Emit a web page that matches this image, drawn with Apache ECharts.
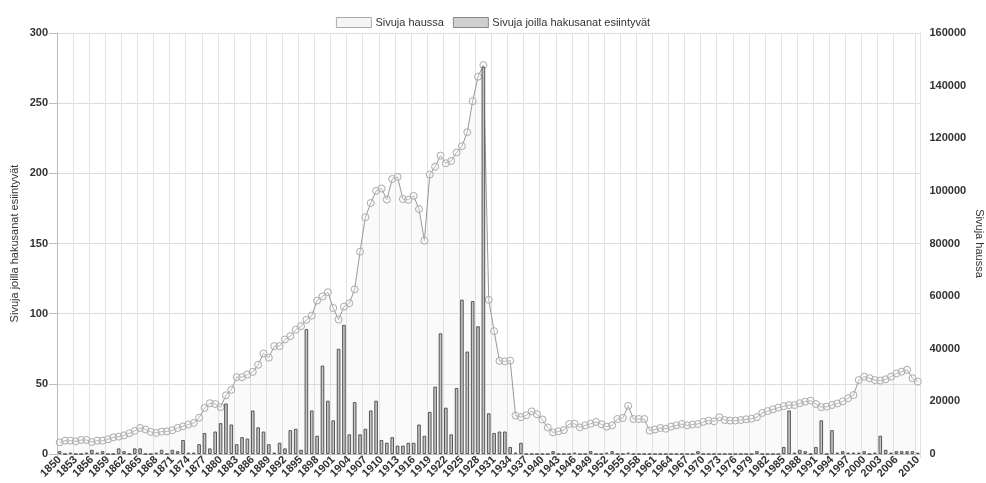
<!DOCTYPE html>
<html>
<head>
<meta charset="utf-8">
<script src="https://cdn.jsdelivr.net/npm/echarts@6/dist/echarts.min.js"></script>
<style>
html,body{margin:0;padding:0;background:#fff;}
#chart{width:986px;height:483px;}
</style>
</head>
<body>
<div id="chart"></div>
<script>
// Years 1850..2010
const years = [];
for (let y = 1850; y <= 2010; y++) years.push(String(y));

// "Sivuja haussa" (right axis)
const pagesTotal = [
4440,5070,5070,4820,5330,5330,4560,5070,5070,5580,
6340,6590,7100,7900,8800,9900,9300,8400,8000,8500,
8600,9000,9900,10500,11200,11800,13800,17500,19300,19000,
17800,22300,24400,29200,29200,30200,31200,33900,38200,36600,
41000,41000,43500,44800,47200,48600,51000,52600,58300,59900,
61500,55500,51100,56000,57300,62600,76900,90000,95400,100000,
100900,96700,104500,105300,96900,96600,98100,93100,81100,106200,
109200,113400,110500,111400,114600,117000,122300,134100,143400,147800,
58600,46700,35400,35200,35500,14600,14000,14700,16200,15100,
13100,10100,8200,8600,9100,11400,11500,10100,10900,11500,
12200,11300,10400,10900,13300,13700,18300,13300,13300,13300,
8900,9300,9900,9600,10400,10900,11400,10900,11200,11400,
12200,12700,12400,14000,12900,12700,12700,12900,13200,13400,
14000,15600,16300,17000,17600,18200,18600,18600,19300,19900,
20300,19000,17800,18000,18600,19200,20000,21200,22400,28100,
29400,28800,28100,27900,28400,29400,30600,31300,32000,28800,
27500
];

// "Sivuja joilla hakusanat esiintyvät" (left axis)
const pagesHits = [
2,0,1,0,0,1,3,1,2,0,
0,4,2,0,4,4,0,0,1,3,
0,3,2,10,1,1,7,15,4,16,
22,36,21,7,12,11,31,19,16,7,
1,8,4,17,18,3,89,31,13,63,
38,24,75,92,14,37,14,18,31,38,
10,8,12,6,6,8,8,21,13,30,
48,86,33,14,47,110,73,109,91,276,
29,15,16,16,5,1,8,0,0,0,
0,0,2,0,0,0,1,0,0,2,
0,0,1,2,0,0,1,0,0,0,
0,0,0,0,0,0,0,0,0,2,
0,0,0,0,0,0,0,0,0,0,
2,0,0,0,0,5,31,1,3,2,
0,5,24,0,17,1,2,1,1,1,
2,0,1,13,3,1,2,2,2,2,
1
];

const leftTicks = {min: 0, max: 300, interval: 50};
const rightTicks = {min: 0, max: 160000, interval: 20000};

const seriesNames = ['Sivuja haussa', 'Sivuja joilla hakusanat esiintyvät'];
const axisNames = ['Sivuja joilla hakusanat esiintyvät', 'Sivuja haussa'];

const FONT = '"Liberation Sans", Arial, sans-serif';
const showIdx = (i) => (i % 3 === 0 && i <= years.length - 4) || i === years.length - 1;

const chart = echarts.init(document.getElementById('chart'), null, {renderer: 'canvas'});
chart.setOption({
  animation: false,
  backgroundColor: '#fff',
  textStyle: {fontFamily: FONT},
  legend: {
    top: 12,
    left: 'center',
    itemWidth: 35,
    itemHeight: 10,
    itemGap: 9,
    icon: 'rect',
    textStyle: {fontFamily: FONT, fontSize: 11, color: '#333', padding: [0, 0, 0, -1]},
    data: [
      {name: seriesNames[0], itemStyle: {color: '#f5f5f5', borderColor: '#aaa', borderWidth: 1}},
      {name: seriesNames[1], itemStyle: {color: '#cfcfcf', borderColor: '#888', borderWidth: 1}}
    ]
  },
  grid: {left: 57, right: 65.5, top: 33, bottom: 29, containLabel: false, outerBoundsMode: 'none'},
  xAxis: {
    type: 'category',
    data: years,
    boundaryGap: true,
    axisLine: {show: true, lineStyle: {color: '#bbb', width: 1}},
    axisTick: {show: true, length: 4, interval: (i) => showIdx(i), lineStyle: {color: '#ddd'}},
    axisLabel: {
      interval: (i) => showIdx(i),
      rotate: 45,
      margin: 4,
      fontSize: 11,
      fontWeight: 'bold',
      color: '#333',
      fontFamily: FONT
    },
    splitLine: {show: true, interval: (i) => showIdx(i), lineStyle: {color: '#e2e2e2', width: 1}}
  },
  yAxis: [
    {
      type: 'value',
      position: 'left',
      min: leftTicks.min, max: leftTicks.max, interval: leftTicks.interval,
      name: axisNames[0],
      nameLocation: 'middle',
      nameRotate: 90,
      nameGap: 37,
      nameMoveOverlap: false,
      nameTextStyle: {fontSize: 11, color: '#333', fontFamily: FONT},
      axisLine: {show: true, lineStyle: {color: '#bbb'}},
      axisTick: {show: true, length: 8, lineStyle: {color: '#bbb'}},
      axisLabel: {fontSize: 11, fontWeight: 'bold', color: '#333', margin: 9, fontFamily: FONT},
      splitLine: {show: true, lineStyle: {color: '#dcdcdc'}}
    },
    {
      type: 'value',
      position: 'right',
      min: rightTicks.min, max: rightTicks.max, interval: rightTicks.interval,
      name: axisNames[1],
      nameLocation: 'middle',
      nameRotate: -90,
      nameGap: 53,
      nameMoveOverlap: false,
      nameTextStyle: {fontSize: 11, color: '#333', fontFamily: FONT},
      axisLine: {show: true, lineStyle: {color: '#e2e2e2'}},
      axisTick: {show: false},
      axisLabel: {fontSize: 11, fontWeight: 'bold', color: '#333', margin: 9, fontFamily: FONT,
        formatter: (v) => String(v)},
      splitLine: {show: false}
    }
  ],
  series: [
    {
      name: seriesNames[0],
      type: 'line',
      yAxisIndex: 1,
      data: pagesTotal,
      symbol: 'circle',
      symbolSize: 7,
      showAllSymbol: true,
      z: 2,
      lineStyle: {color: '#999', width: 1},
      itemStyle: {color: 'rgba(250,250,250,0.3)', borderColor: '#aaa', borderWidth: 1},
      areaStyle: {color: 'rgba(220,220,220,0.22)'}
    },
    {
      name: seriesNames[1],
      type: 'bar',
      yAxisIndex: 0,
      data: pagesHits,
      barWidth: 3.6,
      z: 3,
      itemStyle: {color: '#c6c6c6', borderColor: '#555', borderWidth: 1}
    }
  ]
});
</script>
</body>
</html>
